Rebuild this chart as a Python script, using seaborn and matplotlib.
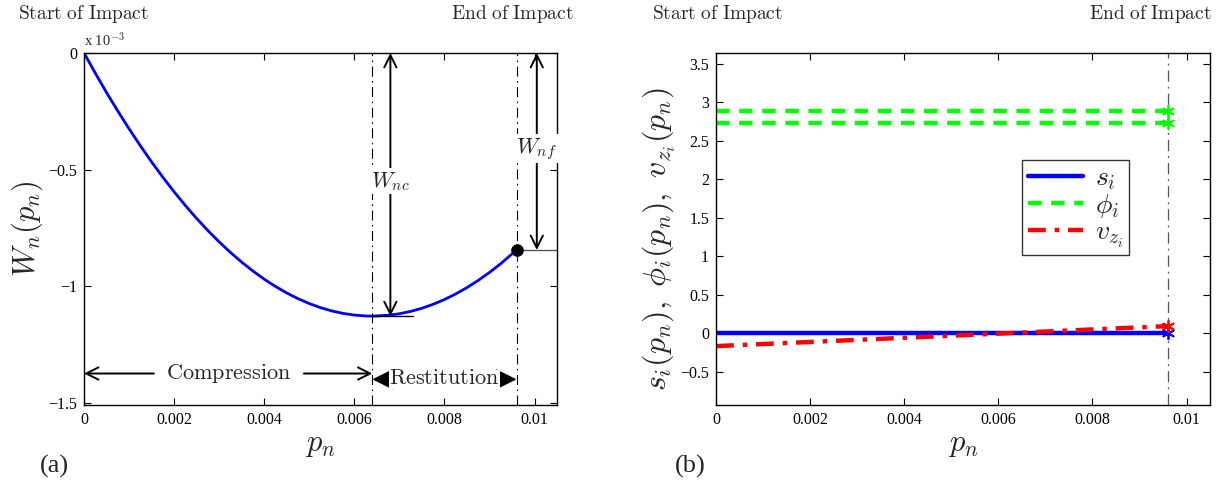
import numpy as np
import pandas as pd
import matplotlib
matplotlib.use("Agg")
import matplotlib.pyplot as plt
import seaborn as sns

# ---------------- data ----------------
# Panel (a): work W_n vs normal impulse p_n (W in units of 1e-3)
p_a = [0.0, 0.00025, 0.0005, 0.00075, 0.001, 0.00125, 0.0015, 0.00175, 0.002, 0.00225,
       0.0025, 0.00275, 0.003, 0.00325, 0.0035, 0.00375, 0.004, 0.00425, 0.0045, 0.00475,
       0.005, 0.00525, 0.0055, 0.00575, 0.006, 0.00625, 0.0064, 0.00675, 0.007, 0.00725,
       0.0075, 0.00775, 0.008, 0.00825, 0.0085, 0.00875, 0.009, 0.00925, 0.0096]
W_a = [0.0, -0.0865, -0.170, -0.2492, -0.3254, -0.3981, -0.4674, -0.5332, -0.5956, -0.6545,
       -0.7100, -0.7620, -0.8106, -0.8557, -0.8974, -0.9356, -0.9704, -1.0017, -1.0296, -1.0540,
       -1.075, -1.0925, -1.1066, -1.1172, -1.1244, -1.1281, -1.1287, -1.1252, -1.1186, -1.1085,
       -1.0950, -1.0780, -1.0576, -1.0337, -1.0064, -0.9756, -0.9414, -0.9037, -0.8452]
p_compress_end = 0.0064
p_impact_end = 0.0096
W_min = -1.1287
W_final = -0.8452

# Panel (b): state variables vs p_n
p_b = [0.0, 0.0096]
s_vals = [0.0, 0.0]
phi_upper = [2.88, 2.88]
phi_lower = [2.73, 2.73]
vz_vals = [-0.17, 0.09]

x_ticks = [0, 0.002, 0.004, 0.006, 0.008, 0.01]
x_ticklabels = ["0", "0.002", "0.004", "0.006", "0.008", "0.01"]
ya_ticks = [0, -0.5, -1, -1.5]
ya_ticklabels = ["0", "\u22120.5", "\u22121", "\u22121.5"]
yb_ticks = [-0.5, 0, 0.5, 1, 1.5, 2, 2.5, 3, 3.5]
yb_ticklabels = ["\u22120.5", "0", "0.5", "1", "1.5", "2", "2.5", "3", "3.5"]

# ---------------- style ----------------
sns.set_style("ticks")
plt.rcParams["font.family"] = ["Liberation Serif", "DejaVu Serif"]
plt.rcParams["mathtext.fontset"] = "cm"
plt.rcParams["axes.linewidth"] = 1.0
plt.rcParams["xtick.direction"] = "in"
plt.rcParams["ytick.direction"] = "in"

fig = plt.figure(figsize=(12.23, 4.91), dpi=100)
axA = fig.add_axes([0.0687, 0.1752, 0.3868, 0.7169])
axB = fig.add_axes([0.5855, 0.1752, 0.4039, 0.7169])

def style_axes(ax):
    for s in ax.spines.values():
        s.set_visible(True)
        s.set_color("black")
    ax.tick_params(axis="both", which="both", direction="in", top=True, right=True,
                   length=5, width=0.8, labelsize=11.5, pad=5, colors="black")
    ax.set_xticks(x_ticks)
    ax.set_xticklabels(x_ticklabels)
    ax.set_xlim(0, 0.0105)

dashdot = (0, (9, 4, 1.5, 4))

# ---------------- panel (a) ----------------
dfa = pd.DataFrame({"p": p_a, "W": W_a})
sns.lineplot(data=dfa, x="p", y="W", ax=axA, color="#0000ff", lw=2.0, sort=False)
style_axes(axA)
axA.set_ylim(-1.51, 0)
axA.set_yticks(ya_ticks)
axA.set_yticklabels(ya_ticklabels)
axA.set_xlabel(r"$p_n$", fontsize=22)
axA.set_ylabel(r"$W_n(p_n)$", fontsize=22)
axA.yaxis.set_label_coords(-0.082, 0.5)
axA.xaxis.set_label_coords(0.5, -0.07)
axA.text(0.0, 1.012, r"x 10$^{-3}$", transform=axA.transAxes, fontsize=10.5, ha="left", va="bottom")

axA.axvline(p_compress_end, color="black", lw=0.8, ls=dashdot)
axA.axvline(p_impact_end, color="black", lw=0.8, ls=dashdot)

# end point marker
sns.scatterplot(x=[p_impact_end], y=[W_final], ax=axA, color="black", s=70, zorder=5, edgecolor="black")
# horizontal guide lines
axA.plot([p_impact_end, 0.0105], [W_final, W_final], color="#555555", lw=1.0)
axA.plot([p_compress_end, 0.0073], [W_min, W_min], color="black", lw=1.0)

arrow_kw = dict(arrowstyle="<->", color="black", lw=1.4, mutation_scale=22, shrinkA=0, shrinkB=0)
# W_nc arrow
axA.annotate("", xy=(0.0068, 0.0), xytext=(0.0068, W_min), arrowprops=arrow_kw)
axA.text(0.0068, -0.55, r"$W_{nc}$", fontsize=16, ha="center", va="center",
         bbox=dict(facecolor="white", edgecolor="none", pad=1))
# W_nf arrow
axA.annotate("", xy=(0.01005, 0.0), xytext=(0.01005, W_final), arrowprops=arrow_kw)
axA.text(0.01005, -0.41, r"$W_{nf}$", fontsize=16, ha="center", va="center",
         bbox=dict(facecolor="white", edgecolor="none", pad=1))

one_kw = dict(arrowstyle="->", color="black", lw=1.4, mutation_scale=22, shrinkA=0, shrinkB=0)
y_c = -1.375
axA.annotate("", xy=(0.0, y_c), xytext=(0.00155, y_c), arrowprops=one_kw)
axA.text(0.0032, y_c, r"$\mathrm{Compression}$", fontsize=16, ha="center", va="center")
axA.annotate("", xy=(p_compress_end, y_c), xytext=(0.00488, y_c), arrowprops=one_kw)
y_r = -1.40
res_kw = dict(arrowstyle="<|-|>,head_length=0.6,head_width=0.3", color="black", lw=1.2,
              mutation_scale=22, shrinkA=0, shrinkB=0)
axA.annotate("", xy=(p_compress_end, y_r), xytext=(p_impact_end, y_r), arrowprops=res_kw)
axA.text(0.0080, y_r, r"$\mathrm{Restitution}$", fontsize=16, ha="center", va="center",
         bbox=dict(facecolor="white", edgecolor="none", pad=0))

# ---------------- panel (b) ----------------
dfs = pd.DataFrame({"p": p_b, "v": s_vals})
dfp1 = pd.DataFrame({"p": p_b, "v": phi_upper})
dfp2 = pd.DataFrame({"p": p_b, "v": phi_lower})
dfv = pd.DataFrame({"p": p_b, "v": vz_vals})

axB.axvline(p_impact_end, color="#555555", lw=0.9, ls=dashdot)
sns.lineplot(data=dfs, x="p", y="v", ax=axB, color="#0000ff", lw=3.2, label=r"$s_i$")
sns.lineplot(data=dfp1, x="p", y="v", ax=axB, color="#00ff00", lw=3.2, ls=(0, (3, 2.2)), label=r"$\phi_i$")
sns.lineplot(data=dfp2, x="p", y="v", ax=axB, color="#00ff00", lw=3.2, ls=(0, (3, 2.2)))
sns.lineplot(data=dfv, x="p", y="v", ax=axB, color="#ff0000", lw=3.2, ls=(0, (4, 2, 1, 2)), label=r"$v_{z_i}$")
for vals, col in [(s_vals, "#0000ff"), (phi_upper, "#00ff00"), (phi_lower, "#00ff00"), (vz_vals, "#ff0000")]:
    sns.scatterplot(x=[p_b[-1]], y=[vals[-1]], ax=axB, marker=(6, 2, 0), s=70, color=col,
                    edgecolor=col, linewidth=1.3, zorder=5)

style_axes(axB)
axB.set_ylim(-0.935, 3.64)
axB.set_yticks(yb_ticks)
axB.set_yticklabels(yb_ticklabels)
axB.set_xlabel(r"$p_n$", fontsize=22)
axB.set_ylabel(r"$s_i(p_n),\ \phi_i(p_n),\ v_{z_i}(p_n)$", fontsize=23)
axB.yaxis.set_label_coords(-0.078, 0.47)
axB.xaxis.set_label_coords(0.5, -0.07)
leg = axB.legend(loc="upper left", bbox_to_anchor=(0.62, 0.695), fontsize=20, frameon=True,
                 fancybox=False, edgecolor="black", handlelength=2.0, borderpad=0.2,
                 labelspacing=0.0, handletextpad=0.4, borderaxespad=0)
leg.get_frame().set_linewidth(1.0)

# ---------------- figure texts ----------------
fig.text(18 / 1223, 1 - 14 / 491, r"$\mathrm{Start\ of\ Impact}$", fontsize=14, ha="left", va="center")
fig.text(574 / 1223, 1 - 14 / 491, r"$\mathrm{End\ of\ Impact}$", fontsize=14, ha="right", va="center")
fig.text(652 / 1223, 1 - 14 / 491, r"$\mathrm{Start\ of\ Impact}$", fontsize=14, ha="left", va="center")
fig.text(1212 / 1223, 1 - 14 / 491, r"$\mathrm{End\ of\ Impact}$", fontsize=14, ha="right", va="center")
fig.text(40 / 1223, 1 - 466 / 491, "(a)", fontsize=19, ha="left", va="center")
fig.text(675 / 1223, 1 - 466 / 491, "(b)", fontsize=19, ha="left", va="center")

fig.savefig("out.png", dpi=100)
